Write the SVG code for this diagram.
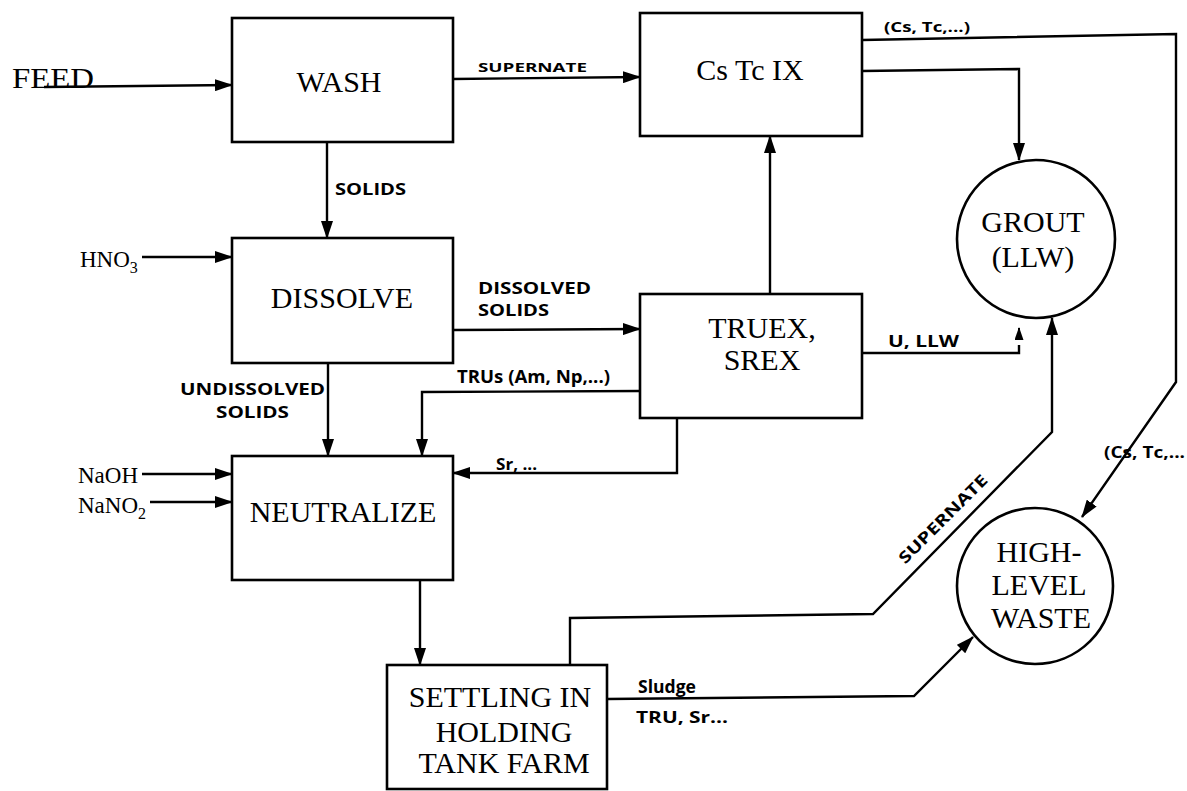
<svg xmlns="http://www.w3.org/2000/svg" width="1187" height="791" viewBox="0 0 1187 791">
<style>
.box{fill:#fff;stroke:#000;stroke-width:2.6}
.big{font-family:"Liberation Serif",serif;font-size:30px;fill:#000;text-anchor:middle}
.lbl{font-family:"Open Sans","Liberation Sans",sans-serif;font-weight:700;fill:#000}
.chem{font-family:"Liberation Serif",serif;font-size:23px;fill:#000}
.ln{fill:none;stroke:#000;stroke-width:2.4;marker-end:url(#arr)}
.pl{fill:none;stroke:#000;stroke-width:2.4}
</style>
<defs>
<marker id="arr" viewBox="0 0 18 12" refX="17" refY="6" markerWidth="18" markerHeight="12" orient="auto" markerUnits="userSpaceOnUse"><path d="M0,0 L18,6 L0,12 z" fill="#000"/></marker>
<marker id="arrs" viewBox="0 0 13 9" refX="12" refY="4.5" markerWidth="13" markerHeight="9" orient="auto" markerUnits="userSpaceOnUse"><path d="M0,0 L13,4.5 L0,9 z" fill="#000"/></marker>
</defs>
<rect width="1187" height="791" fill="#fff"/>
<g id="connectors">
<path class="ln" d="M44,87 L232,85"/>
<path class="ln" d="M453,79 L640,77"/>
<path class="ln" d="M327,142 L327,238"/>
<path class="ln" d="M142,257 L232,257"/>
<path class="ln" d="M453,330 L640,329"/>
<path class="ln" d="M328,363 L328,456"/>
<path class="ln" d="M640,391 L422,392 L422,456"/>
<path class="ln" d="M677,418 L677,473 L453,473"/>
<path class="ln" d="M142,474 L232,474"/>
<path class="ln" d="M150,502 L232,502"/>
<path class="ln" d="M420,580 L420,665"/>
<path class="ln" d="M770,294 L770,136"/>
<path class="ln" d="M862,71 L1019,69 L1019,160"/>
<path class="ln" d="M862,40 L1176,34 L1176,382 L1082,517"/>
<path class="pl" d="M862,353 L1019,353 L1019,345"/>
<path d="M1019,340 L1019,328" fill="none" stroke="#000" stroke-width="2" marker-end="url(#arrs)"/>
<path class="ln" d="M570,665 L570,618 L873,614 L1052,432 L1052,318"/>
<path class="ln" d="M607,699 L914,696 L973,637"/>
</g>
<g id="labels">
<text class="lbl" x="478" y="72" font-size="13" textLength="109" lengthAdjust="spacingAndGlyphs">SUPERNATE</text>
<text class="lbl" x="335" y="195" font-size="16" textLength="71" lengthAdjust="spacingAndGlyphs">SOLIDS</text>
<text class="lbl" x="884" y="32" font-size="15" textLength="86" lengthAdjust="spacingAndGlyphs">(Cs, Tc,...)</text>
<text class="lbl" x="478" y="294" font-size="16" textLength="113" lengthAdjust="spacingAndGlyphs">DISSOLVED</text>
<text class="lbl" x="478" y="316" font-size="16" textLength="71" lengthAdjust="spacingAndGlyphs">SOLIDS</text>
<text class="lbl" x="180" y="395" font-size="16" textLength="145" lengthAdjust="spacingAndGlyphs">UNDISSOLVED</text>
<text class="lbl" x="216" y="418" font-size="16" textLength="73" lengthAdjust="spacingAndGlyphs">SOLIDS</text>
<text class="lbl" x="457" y="383" font-size="17" textLength="153" lengthAdjust="spacingAndGlyphs">TRUs (Am, Np,...)</text>
<text class="lbl" x="496" y="470" font-size="16" textLength="41" lengthAdjust="spacingAndGlyphs">Sr, ...</text>
<text class="lbl" x="888" y="347" font-size="16" textLength="71" lengthAdjust="spacingAndGlyphs">U, LLW</text>
<text class="lbl" x="638" y="693" font-size="17" textLength="58" lengthAdjust="spacingAndGlyphs">Sludge</text>
<text class="lbl" x="636" y="723" font-size="16" textLength="92" lengthAdjust="spacingAndGlyphs">TRU, Sr...</text>
<text class="lbl" x="1104" y="458" font-size="16" textLength="81" lengthAdjust="spacingAndGlyphs">(Cs, Tc,...</text>
<text class="lbl" font-size="16" text-anchor="middle" textLength="118" lengthAdjust="spacingAndGlyphs" transform="translate(947,523) rotate(-45)">SUPERNATE</text>
<text class="big" x="12" y="88" font-size="38" style="text-anchor:start" textLength="82" lengthAdjust="spacingAndGlyphs">FEED</text>
<text class="chem" x="80" y="267">HNO<tspan font-size="16" dy="6">3</tspan></text>
<text class="chem" x="78" y="483">NaOH</text>
<text class="chem" x="78" y="513">NaNO<tspan font-size="16" dy="6">2</tspan></text>
</g>
<g id="wash"><rect class="box" x="232" y="18" width="221" height="124"/><text class="big" x="339" y="92">WASH</text></g>
<g id="cstcix"><rect class="box" x="640" y="13" width="222" height="123"/><text class="big" x="750" y="80">Cs Tc IX</text></g>
<g id="dissolve"><rect class="box" x="232" y="238" width="221" height="125"/><text class="big" x="342" y="308">DISSOLVE</text></g>
<g id="truex"><rect class="box" x="640" y="294" width="222" height="124"/><text class="big" x="762" y="338">TRUEX,</text><text class="big" x="762" y="370">SREX</text></g>
<g id="neutralize"><rect class="box" x="232" y="456" width="221" height="124"/><text class="big" x="343" y="522">NEUTRALIZE</text></g>
<g id="settling"><rect class="box" x="387" y="665" width="220" height="124"/><text class="big" x="500" y="707">SETTLING IN</text><text class="big" x="504" y="742">HOLDING</text><text class="big" x="504" y="773">TANK FARM</text></g>
<g id="grout"><circle class="box" cx="1036" cy="239" r="79"/><text class="big" x="1033" y="232">GROUT</text><text class="big" x="1033" y="267">(LLW)</text></g>
<g id="hlw"><circle class="box" cx="1035" cy="586" r="78"/><text class="big" x="1039" y="562">HIGH-</text><text class="big" x="1039" y="595">LEVEL</text><text class="big" x="1041" y="628">WASTE</text></g>
</svg>
